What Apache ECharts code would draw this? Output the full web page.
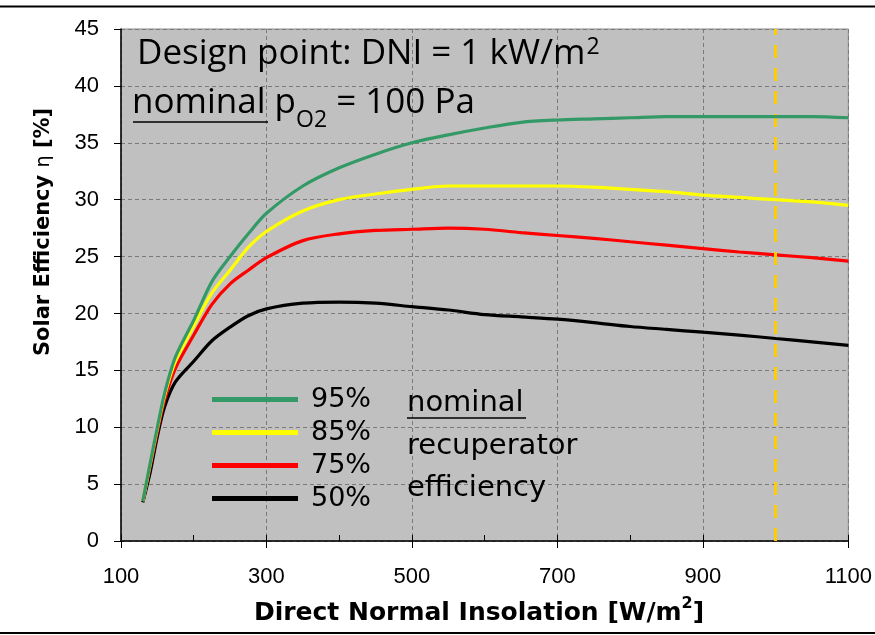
<!DOCTYPE html>
<html>
<head>
<meta charset="utf-8">
<script src="https://cdn.jsdelivr.net/npm/echarts@6/dist/echarts.min.js"></script>
<style>
  html, body { margin: 0; padding: 0; background: #ffffff; }
  #chart { width: 875px; height: 635px; }
</style>
</head>
<body>
<div id="chart"></div>
<script>
// Direct normal insolation [W/m2]
const dni = [130, 140, 150, 160, 175, 200, 225, 250, 275, 300, 350, 400, 450, 500,
             550, 600, 650, 700, 750, 800, 850, 900, 950, 1000, 1050, 1100];

// Solar efficiency [%] for each nominal recuperator efficiency
const eff95 = [3.5, 6.8, 10.0, 13.0, 16.2, 19.4, 22.8, 25.0, 27.0, 28.8, 31.2, 32.8, 34.0, 35.0,
               35.7, 36.3, 36.8, 37.0, 37.1, 37.2, 37.3, 37.3, 37.3, 37.3, 37.3, 37.2];
const eff85 = [3.5, 6.7, 9.9, 12.8, 15.8, 18.9, 21.8, 23.8, 25.8, 27.2, 29.0, 30.0, 30.5, 30.9,
               31.2, 31.2, 31.2, 31.2, 31.1, 30.9, 30.7, 30.4, 30.2, 30.0, 29.8, 29.5];
const eff75 = [3.5, 6.5, 9.6, 12.4, 15.2, 18.1, 20.8, 22.6, 23.8, 24.9, 26.4, 27.0, 27.3, 27.4,
               27.5, 27.4, 27.1, 26.85, 26.6, 26.3, 26.0, 25.7, 25.4, 25.15, 24.9, 24.6];
const eff50 = [3.4, 6.0, 9.2, 11.8, 14.0, 15.8, 17.6, 18.8, 19.8, 20.4, 20.9, 21.0, 20.9, 20.6,
               20.3, 19.9, 19.7, 19.5, 19.2, 18.85, 18.6, 18.35, 18.1, 17.8, 17.5, 17.2];

const seriesNames = ['95%', '85%', '75%', '50%'];
const seriesColors = ['#339966', '#FFFF00', '#FF0000', '#000000'];
const seriesValues = [eff95, eff85, eff75, eff50];

// Design point DNI (dashed marker)
const designDNI = 1000;

const xMin = 100, xMax = 1100, xStep = 200;
const yMin = 0, yMax = 45, yStep = 5;

const chart = echarts.init(document.getElementById('chart'), null, { renderer: 'canvas' });

const series = seriesNames.map((name, i) => ({
  name: name,
  type: 'line',
  xAxisIndex: 0,
  yAxisIndex: 0,
  data: dni.map((x, k) => [x, seriesValues[i][k]]),
  showSymbol: false,
  symbol: 'none',
  smooth: 0.3,
  lineStyle: { color: seriesColors[i], width: 3.2 },
  itemStyle: { color: seriesColors[i] },
  z: 3 + (3 - i),
  animation: false
}));

// dashed vertical line at the design point
series[0].markLine = {
  silent: true,
  symbol: ['none', 'none'],
  label: { show: false },
  lineStyle: { color: '#FFCC00', width: 3, type: [13, 10] },
  data: [{ xAxis: designDNI }],
  animation: false
};

const tickFont = { fontFamily: 'Liberation Sans', fontSize: 22, color: '#000000' };
const noteFont = 'Open Sans';

const option = {
  animation: false,
  backgroundColor: '#ffffff',
  grid: {
    left: 121, right: 26, top: 29, bottom: 94,
    show: true,
    backgroundColor: '#C0C0C0',
    borderColor: '#8c8c8c',
    borderWidth: 1
  },
  legend: {
    data: seriesNames,
    orient: 'vertical',
    left: 212,
    top: 386,
    padding: 0,
    itemWidth: 86,
    itemHeight: 5,
    itemGap: 6,
    icon: 'rect',
    selectedMode: false,
    textStyle: {
      fontFamily: 'DejaVu Sans',
      fontSize: 27,
      lineHeight: 27,
      color: '#000000',
      padding: [0, 0, 0, 8]
    }
  },
  xAxis: [
    {
      type: 'value',
      min: xMin, max: xMax, interval: xStep,
      position: 'bottom',
      axisLine: { show: true, onZero: false, lineStyle: { color: '#000000', width: 1.5 } },
      axisTick: { show: true, inside: false, length: 7, lineStyle: { color: '#000000', width: 1 } },
      axisLabel: Object.assign({ margin: 25, formatter: v => String(v) }, tickFont),
      splitLine: { show: true, lineStyle: { color: '#7a7a7a', width: 1, type: [4, 3] } }
    },
    {
      type: 'value',
      min: xMin, max: xMax, interval: xStep / 2,
      position: 'bottom',
      axisLine: { show: false },
      axisTick: { show: true, inside: true, length: 6, lineStyle: { color: '#000000', width: 1 } },
      axisLabel: { show: false },
      splitLine: { show: false }
    }
  ],
  yAxis: {
    type: 'value',
    min: yMin, max: yMax, interval: yStep,
    axisLine: { show: true, onZero: false, lineStyle: { color: '#000000', width: 1.5 } },
    axisTick: { show: true, inside: false, length: 7, lineStyle: { color: '#000000', width: 1 } },
    axisLabel: Object.assign({ margin: 22 }, tickFont),
    splitLine: { show: true, lineStyle: { color: '#7a7a7a', width: 1, type: [4, 3] } }
  },
  series: series,
  graphic: [
    // frame lines
    { type: 'line', shape: { x1: 0, y1: 6.5, x2: 875, y2: 6.5 }, style: { stroke: '#000000', lineWidth: 2 }, z: 100 },
    { type: 'line', shape: { x1: 0, y1: 633, x2: 875, y2: 633 }, style: { stroke: '#000000', lineWidth: 2 }, z: 100 },
    // design point annotation (superscript raised with bottom padding)
    {
      type: 'text', z: 100,
      style: {
        x: 137, y: 32, verticalAlign: 'top',
        text: '{a|Design point: DNI = 1 kW/m}{s|2}',
        rich: {
          a: { fontFamily: noteFont, fontSize: 35, lineHeight: 40, fill: '#000000', verticalAlign: 'bottom' },
          s: { fontFamily: noteFont, fontSize: 23, fill: '#000000', verticalAlign: 'bottom', padding: [0, 0, 13, 1] }
        }
      }
    },
    // oxygen partial pressure (subscript lowered with top padding)
    {
      type: 'text', z: 100,
      style: {
        x: 132, y: 86, verticalAlign: 'top',
        text: '{a|nominal p}{s|O2}{a| = 100 Pa}',
        rich: {
          a: { fontFamily: noteFont, fontSize: 35, lineHeight: 40, fill: '#000000', verticalAlign: 'top' },
          s: { fontFamily: noteFont, fontSize: 23, fill: '#000000', verticalAlign: 'top', padding: [23, 0, 0, 0] }
        }
      }
    },
    { type: 'line', shape: { x1: 133, y1: 122, x2: 268, y2: 122 }, style: { stroke: '#000000', lineWidth: 1.5 }, z: 100 },
    // legend heading
    {
      type: 'text', z: 100,
      style: {
        x: 407, y: 382.5, verticalAlign: 'top',
        text: 'nominal\nrecuperator\nefficiency',
        fontFamily: 'DejaVu Sans', fontSize: 29, lineHeight: 42.5, fill: '#000000'
      }
    },
    { type: 'line', shape: { x1: 407, y1: 418, x2: 526, y2: 418 }, style: { stroke: '#000000', lineWidth: 1.5 }, z: 100 },
    // axis titles
    {
      type: 'text', z: 100,
      x: 44, y: 232, rotation: Math.PI / 2,
      style: {
        x: 0, y: 0, align: 'center', verticalAlign: 'middle',
        text: '{b|Solar Efficiency }{e|η}{b| [%]}',
        rich: {
          b: { fontFamily: 'DejaVu Sans', fontWeight: 'bold', fontSize: 21, lineHeight: 26, fill: '#000000' },
          e: { fontFamily: 'DejaVu Sans', fontSize: 19, lineHeight: 26, fill: '#000000' }
        }
      }
    },
    {
      type: 'text', z: 100,
      style: {
        x: 479, y: 610, align: 'center', verticalAlign: 'middle',
        text: '{b|Direct Normal Insolation [W/m}{s|2}{b|]}',
        rich: {
          b: { fontFamily: 'DejaVu Sans', fontWeight: 'bold', fontSize: 25, lineHeight: 32, fill: '#000000', verticalAlign: 'bottom' },
          s: { fontFamily: 'DejaVu Sans', fontWeight: 'bold', fontSize: 16, fill: '#000000', verticalAlign: 'bottom', padding: [0, 0, 14, 0] }
        }
      }
    }
  ]
};

chart.setOption(option);
</script>
</body>
</html>
